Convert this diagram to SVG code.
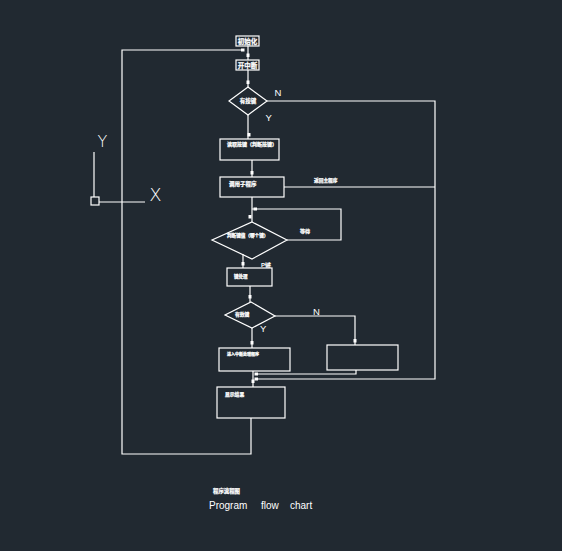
<svg xmlns="http://www.w3.org/2000/svg" width="562" height="551" viewBox="0 0 562 551">
<style>
.ln{fill:none;stroke:#ffffff;stroke-width:1.2}
.bx{fill:none;stroke:#ffffff;stroke-width:1.2}
.mk{fill:#ffffff}
.cn{font-family:"Noto Sans CJK SC","Noto Sans",sans-serif;font-weight:bold;fill:#ffffff;stroke:#ffffff;stroke-width:0.25}
.lt{font-family:"Liberation Sans",Arial,sans-serif;fill:#ffffff}
.ax{font-family:"DejaVu Sans","Liberation Sans",sans-serif;font-weight:200;fill:#ffffff}
</style>
<rect x="0" y="0" width="562" height="551" fill="#212931"/>

<g id="connectors">
  <polyline class="ln" points="248,46 248,60"/>
  <polyline class="ln" points="248,70 248,87"/>
  <polyline class="ln" points="248,115 248,139"/>
  <polyline class="ln" points="252,160 252,177"/>
  <polyline class="ln" points="252,197 252,222"/>
  <polyline class="ln" points="267,101 435,101 435,379 256,379"/>
  <polyline class="ln" points="284,187 435,187"/>
  <polyline class="ln" points="287,240 341,240 341,209 252,209"/>
  <polyline class="ln" points="243,254 243,268"/>
  <polyline class="ln" points="250,286 250,302"/>
  <polyline class="ln" points="252,328 252,348"/>
  <polyline class="ln" points="275,316 355,316 355,345"/>
  <polyline class="ln" points="356,370 356,374 256,374"/>
  <polyline class="ln" points="253,371 253,387"/>
  <polyline class="ln" points="251,418 251,454 122,454 122,50 243,50"/>
  <rect class="mk" x="241" y="48.5" width="3.5" height="3"/>
  <rect class="mk" x="246.5" y="53.5" width="3" height="3.5"/>
  <rect class="mk" x="246.5" y="80.5" width="3" height="3.5"/>
  <rect class="mk" x="247.5" y="133" width="3" height="3.5"/>
  <rect class="mk" x="250.5" y="171" width="3" height="3.5"/>
  <rect class="mk" x="248.5" y="215" width="3" height="3.5"/>
  <rect class="mk" x="253.5" y="207.5" width="3.5" height="3"/>
  <rect class="mk" x="241.5" y="262" width="3" height="3.5"/>
  <rect class="mk" x="248.5" y="295" width="3" height="3.5"/>
  <rect class="mk" x="250.5" y="341" width="3" height="3.5"/>
  <rect class="mk" x="353.5" y="339" width="3" height="3.5"/>
  <rect class="mk" x="251.5" y="379.5" width="3" height="3.5"/>
  <rect class="mk" x="254.5" y="372.5" width="3.5" height="3"/>
  <rect class="mk" x="254.5" y="377.5" width="3.5" height="3"/>
</g>

<g id="n-init">
  <rect class="bx" x="236" y="36" width="23" height="10"/>
  <text class="cn" x="247.5" y="43.5" font-size="6.5" text-anchor="middle">初始化</text>
</g>
<g id="n-int">
  <rect class="bx" x="236" y="60" width="23" height="10"/>
  <text class="cn" x="247.5" y="67.5" font-size="6.5" text-anchor="middle">开中断</text>
</g>
<g id="n-dec1">
  <polygon class="bx" points="248,87 267,101 248,115 229,101"/>
  <text class="cn" x="248" y="103" font-size="5.5" text-anchor="middle">有按键</text>
  <text class="lt" x="274.5" y="96" font-size="9.5">N</text>
  <text class="lt" x="265.5" y="121" font-size="9.5">Y</text>
</g>
<g id="n-read">
  <rect class="bx" x="220" y="139" width="59" height="21"/>
  <text class="cn" x="252" y="146" font-size="5" text-anchor="middle">读取按键（判断按键）</text>
</g>
<g id="n-call">
  <rect class="bx" x="220" y="177" width="64" height="20"/>
  <text class="cn" x="229" y="186" font-size="5.5">调用子程序</text>
  <text class="cn" x="314" y="182" font-size="4.7">返回主程序</text>
</g>
<g id="n-dec2">
  <polygon class="bx" points="252,222 287,240 252,259 212,240"/>
  <text class="cn" x="227" y="237" font-size="4.6">判断键值（哪个键）</text>
  <text class="cn" x="300" y="233" font-size="5">等待</text>
  <text class="lt" x="261" y="267" font-size="6" font-weight="bold">P键</text>
</g>
<g id="n-exec">
  <rect class="bx" x="227" y="268" width="45" height="18"/>
  <text class="cn" x="234" y="278" font-size="4.5">键处理</text>
</g>
<g id="n-dec3">
  <polygon class="bx" points="251,302 275,316 252,328 225,315"/>
  <text class="cn" x="235" y="316" font-size="4.8">有效键</text>
  <text class="lt" x="313" y="315" font-size="9.5">N</text>
  <text class="lt" x="260" y="332" font-size="9.5">Y</text>
</g>
<g id="n-proc">
  <rect class="bx" x="219" y="348" width="71" height="23"/>
  <text class="cn" x="227" y="356" font-size="4">进入中断处理程序</text>
</g>
<g id="n-empty">
  <rect class="bx" x="327" y="345" width="71" height="25"/>
</g>
<g id="n-show">
  <rect class="bx" x="217" y="387" width="68" height="31"/>
  <text class="cn" x="225" y="396" font-size="4.8">显示结果</text>
</g>

<g id="ucs-icon">
  <polyline class="ln" points="94,152 94,197"/>
  <rect class="bx" x="91" y="197" width="8" height="8"/>
  <polyline class="ln" points="99,202 145,202"/>
  <text class="ax" x="102.5" y="147" font-size="16" text-anchor="middle">Y</text>
  <text class="ax" x="155.5" y="201" font-size="18" text-anchor="middle">X</text>
</g>

<g id="title">
  <text class="cn" x="213" y="493" font-size="5.4">程序流程图</text>
  <text class="lt" x="209" y="509" font-size="10">Program</text>
  <text class="lt" x="261" y="509" font-size="10">flow</text>
  <text class="lt" x="290" y="509" font-size="10">chart</text>
</g>
</svg>
